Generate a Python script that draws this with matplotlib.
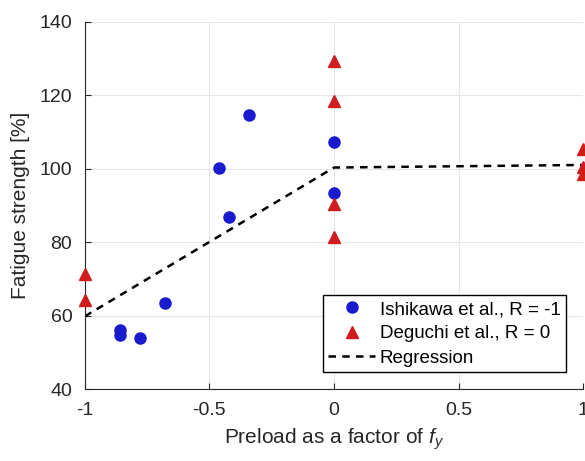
import matplotlib
matplotlib.use('Agg')
import matplotlib.pyplot as plt

# Ishikawa et al., R = -1
ish_x = [-0.46, -0.42, -0.34, -0.68, -0.86, -0.86, -0.78, 0.0, 0.0]
ish_y = [100.2, 86.9, 114.6, 63.3, 56.1, 54.8, 53.8, 107.3, 93.4]

# Deguchi et al., R = 0
deg_x = [-1, -1, 0, 0, 0, 0, 1, 1, 1]
deg_y = [71.3, 64.2, 129.4, 118.3, 90.4, 81.3, 105.4, 100.5, 98.6]

# regression
reg_x = [-1, 0, 1]
reg_y = [59.8, 100.3, 101.0]

plt.rcParams['font.family'] = ['Liberation Sans', 'DejaVu Sans']
plt.rcParams['mathtext.fontset'] = 'custom'
plt.rcParams['mathtext.it'] = 'Liberation Sans:italic'
plt.rcParams['mathtext.rm'] = 'Liberation Sans'

fig = plt.figure(figsize=(5.85, 4.61), dpi=100)
ax = fig.add_axes([0.145, 0.156, 0.852, 0.797])

ax.plot(ish_x, ish_y, 'o', color='#1a1acf', markersize=8, clip_on=False,
        zorder=3, label='Ishikawa et al., R = -1')
ax.plot(deg_x, deg_y, '^', color='#d01c1c', markersize=8.5, clip_on=False,
        zorder=3, label='Deguchi et al., R = 0')
ax.plot(reg_x, reg_y, '--', color='black', linewidth=1.8, dashes=(3, 2.5),
        zorder=2, label='Regression')

ax.set_xlim(-1, 1)
ax.set_ylim(40, 140)
ax.set_xticks([-1, -0.5, 0, 0.5, 1])
ax.set_xticklabels(['-1', '-0.5', '0', '0.5', '1'])
ax.set_yticks([40, 60, 80, 100, 120, 140])
ax.grid(True, color='#e6e6e6', linewidth=0.8)
ax.set_axisbelow(True)
ax.spines['top'].set_visible(False)
ax.spines['right'].set_visible(False)
ax.tick_params(direction='in', labelsize=14, color='#262626',
               labelcolor='#262626', length=4)
ax.tick_params(axis='x', pad=9)
ax.tick_params(axis='y', pad=9)
for s in ['left', 'bottom']:
    ax.spines[s].set_color('#262626')

ax.set_xlabel('Preload as a factor of $f_y$', fontsize=15, color='#262626',
              labelpad=6)
ax.set_ylabel('Fatigue strength [%]', fontsize=15, color='#262626',
              labelpad=7)

leg = ax.legend(loc='lower right', bbox_to_anchor=(0.966, 0.046),
                fontsize=13.5, frameon=True, fancybox=False,
                edgecolor='black', framealpha=1, borderpad=0.3,
                labelspacing=0.38, handlelength=2.5, handletextpad=0.25,
                borderaxespad=0)
leg.get_frame().set_linewidth(1.0)

fig.savefig('out.png', dpi=100)
